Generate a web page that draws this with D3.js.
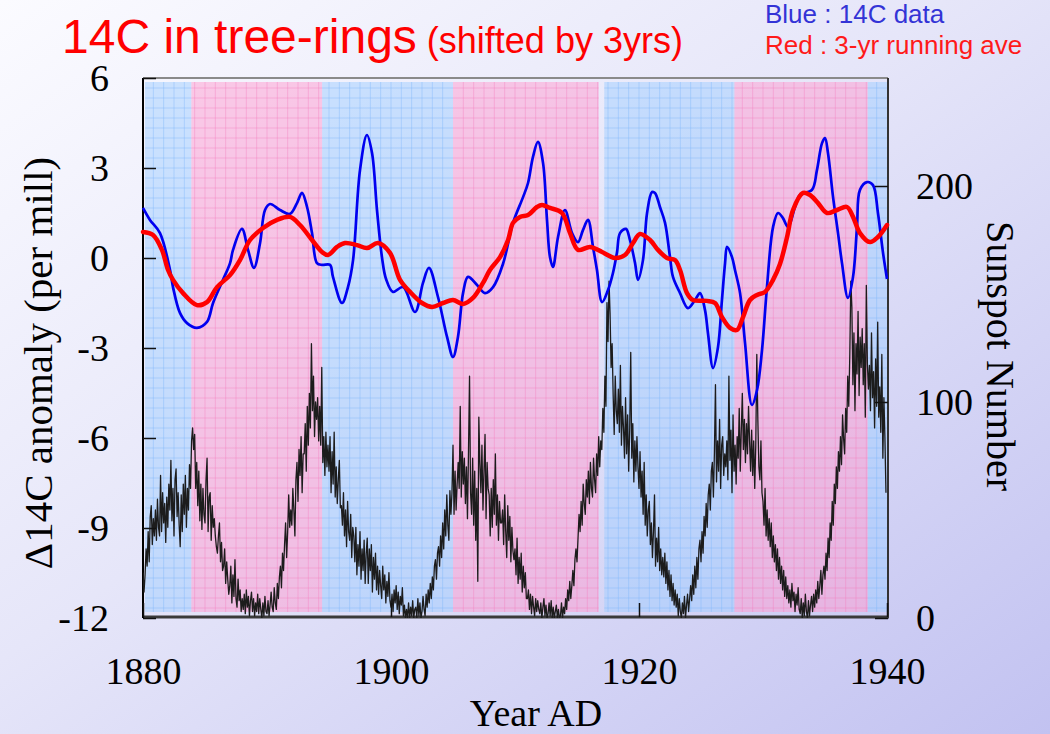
<!DOCTYPE html>
<html>
<head>
<meta charset="utf-8">
<script src="https://cdn.jsdelivr.net/npm/d3@7"></script>
<style>
  html, body { margin: 0; padding: 0; }
  body { width: 1050px; height: 734px; overflow: hidden; }
</style>
</head>
<body>
<div id="chart"></div>
<script>
// 14C anomaly (per mill)
var c14Years = [1880.0, 1880.56, 1881.37, 1882.18, 1882.42, 1882.98, 1883.55, 1884.35, 1885.16, 1885.65,
  1886.45, 1887.02, 1887.26, 1887.98, 1888.47, 1888.95, 1889.44, 1889.84, 1890.24, 1891.05,
  1891.85, 1892.42, 1892.82, 1893.23, 1893.63, 1894.03, 1894.44, 1895.08, 1895.32, 1896.05,
  1896.53, 1896.94, 1897.5, 1898.06, 1898.47, 1898.87, 1899.27, 1899.6, 1900.16, 1900.97,
  1901.94, 1902.58, 1903.06, 1903.79, 1904.52, 1905.0, 1905.4, 1905.81, 1906.21, 1906.94,
  1907.58, 1908.23, 1909.03, 1909.84, 1910.65, 1911.05, 1911.45, 1911.85, 1912.26, 1912.58,
  1912.82, 1913.06, 1913.47, 1914.03, 1914.6, 1915.08, 1915.48, 1915.89, 1916.29, 1916.61,
  1917.02, 1917.5, 1917.9, 1918.23, 1918.47, 1918.95, 1919.27, 1919.68, 1919.92, 1920.32,
  1920.65, 1921.05, 1921.29, 1921.69, 1922.1, 1922.5, 1922.74, 1923.31, 1923.95, 1924.52,
  1924.92, 1925.32, 1925.56, 1925.97, 1926.37, 1926.69, 1926.94, 1927.1, 1927.5, 1927.74,
  1928.15, 1928.55, 1929.11, 1929.52, 1929.92, 1930.32, 1930.81, 1931.21, 1931.61, 1932.02,
  1932.58, 1932.98, 1933.95, 1934.35, 1934.76, 1935.0, 1935.24, 1935.65, 1936.05, 1936.37,
  1936.85, 1937.26, 1937.58, 1937.82, 1938.39, 1938.87, 1939.27, 1939.68, 1940.0];
var c14Values = [1.67, 1.27, 0.83, -0.4, -0.97, -1.83, -2.17, -2.33, -2.13, -1.5,
  -0.73, -0.17, 0.27, 0.97, 0.27, -0.33, 0.5, 1.6, 1.8, 1.6,
  1.47, 1.83, 2.17, 1.7, 0.83, -0.17, -0.23, -0.23, -0.63, -1.5,
  -0.97, -0.07, 2.93, 4.1, 3.5, 1.6, 0.03, -0.7, -1.13, -0.97,
  -1.8, -0.83, -0.33, -1.3, -2.63, -3.3, -2.63, -1.17, -0.63, -0.9,
  -1.17, -0.97, -0.2, 1.17, 2.03, 2.5, 3.37, 3.87, 3.17, 1.27,
  0.03, -0.3, 0.7, 1.6, 0.83, 0.53, 0.93, 1.27, 0.37, -0.4,
  -1.47, -1.07, -0.5, 0.2, 0.83, 0.97, 0.6, -0.17, -0.73, -0.07,
  1.5, 2.2, 2.17, 1.7, 1.17, 0.03, -0.63, -1.17, -1.67, -1.4,
  -1.17, -1.73, -2.5, -3.67, -2.97, -1.4, -0.17, 0.37, 0.03, -0.4,
  -1.17, -2.83, -4.9, -4.4, -3.07, -0.97, 1.03, 1.5, 1.33, 1.03,
  1.7, 2.1, 2.27, 2.93, 3.83, 4.0, 3.5, 2.03, 0.83, -0.17,
  -1.33, -0.63, 1.03, 2.27, 2.53, 2.43, 1.5, 0.17, -0.7];

// 3-yr running average
var avgYears = [1880.0, 1880.81, 1881.53, 1882.02, 1882.42, 1883.23, 1884.35, 1885.16, 1885.97, 1887.02,
  1887.82, 1888.63, 1889.68, 1890.81, 1891.85, 1892.66, 1893.63, 1894.44, 1894.92, 1895.65,
  1896.29, 1897.26, 1898.06, 1898.95, 1899.92, 1900.73, 1901.53, 1902.5, 1903.31, 1904.19,
  1905.0, 1905.81, 1906.61, 1907.42, 1907.98, 1908.79, 1909.44, 1909.84, 1910.4, 1911.05,
  1911.77, 1912.18, 1912.82, 1913.79, 1914.44, 1915.08, 1916.05, 1917.02, 1918.06, 1918.87,
  1919.52, 1920.08, 1920.89, 1921.53, 1922.26, 1922.9, 1923.31, 1923.87, 1924.35, 1925.48,
  1926.13, 1926.69, 1927.34, 1927.9, 1928.39, 1928.95, 1929.52, 1930.16, 1930.81, 1931.37,
  1931.94, 1932.42, 1933.23, 1933.79, 1934.44, 1935.16, 1935.97, 1936.77, 1937.26, 1937.82,
  1938.63, 1939.27, 1940.0];
var avgValues = [0.87, 0.77, 0.27, -0.4, -0.73, -1.17, -1.57, -1.47, -0.97, -0.57,
  -0.07, 0.6, 1.0, 1.27, 1.37, 1.1, 0.6, 0.2, 0.1, 0.37,
  0.5, 0.43, 0.33, 0.5, 0.17, -0.73, -1.13, -1.5, -1.63, -1.5,
  -1.4, -1.53, -1.33, -0.83, -0.4, 0.03, 0.6, 1.17, 1.37, 1.43,
  1.7, 1.77, 1.67, 1.5, 0.83, 0.27, 0.37, 0.2, 0.0, 0.1,
  0.5, 0.8, 0.6, 0.27, 0.0, -0.07, -0.4, -1.17, -1.4, -1.43,
  -1.5, -1.97, -2.33, -2.4, -1.97, -1.4, -1.23, -1.13, -0.73, -0.2,
  0.7, 1.6, 2.17, 2.1, 1.83, 1.5, 1.6, 1.7, 1.37, 0.83,
  0.53, 0.7, 1.1];

// monthly sunspot number, one row per year from 1880
var sunspotStart = 1880;
var sunspotMonthly = [
  21, 12, 20, 32, 24, 40, 26, 47, 52, 34, 46, 38,
  50, 36, 55, 42, 38, 66, 40, 58, 44, 53, 35, 56,
  42, 62, 50, 73, 45, 60, 38, 64, 69, 47, 58, 43,
  33, 57, 40, 62, 48, 66, 42, 60, 50, 71, 60, 82,
  88, 78, 85, 60, 72, 52, 68, 45, 62, 41, 60, 48,
  44, 64, 74, 40, 56, 58, 36, 52, 42, 46, 38, 33,
  30, 38, 44, 26, 35, 22, 24, 32, 16, 26, 18, 11,
  15, 24, 7, 20, 10, 27, 9, 5, 18, 8, 13, 3,
  9, 4, 11, 2, 13, 5, 10, 1, 8, 12, 3, 9,
  1, 7, 3, 11, 2, 9, 4, 0, 7, 1, 10, 3,
  2, 8, 1, 6, 12, 5, 3, 14, 7, 4, 16, 9,
  19, 24, 14, 30, 22, 34, 44, 28, 40, 57, 42, 50,
  43, 60, 50, 38, 64, 72, 54, 78, 66, 84, 58, 76,
  76, 90, 68, 98, 80, 104, 88, 127, 96, 112, 84, 100,
  92, 102, 82, 98, 80, 116, 72, 84, 66, 86, 70, 80,
  68, 84, 58, 77, 62, 86, 56, 70, 53, 64, 73, 51,
  52, 43, 58, 38, 50, 33, 54, 40, 36, 48, 28, 42,
  38, 26, 42, 20, 34, 24, 40, 18, 32, 22, 36, 16,
  30, 37, 16, 32, 22, 34, 12, 28, 18, 30, 13, 24,
  11, 22, 15, 9, 24, 13, 20, 7, 17, 10, 21, 8,
  5, 11, 3, 13, 7, 15, 4, 12, 2, 10, 6, 14,
  1, 6, 0, 4, 0, 7, 0, 5, 1, 8, 0, 4,
  5, 0, 9, 1, 7, 0, 3, 10, 4, 1, 11, 5,
  13, 7, 16, 9, 19, 13, 24, 27, 18, 30, 33, 24,
  38, 28, 44, 32, 50, 38, 57, 43, 36, 59, 48, 58,
  80, 48, 68, 50, 62, 72, 60, 98, 56, 77, 62, 74,
  53, 70, 46, 77, 112, 58, 48, 74, 43, 68, 36, 60,
  17, 93, 72, 58, 80, 50, 68, 85, 46, 72, 60, 57,
  38, 60, 42, 64, 48, 76, 43, 57, 36, 54, 44, 44,
  50, 34, 57, 40, 28, 52, 36, 47, 26, 42, 31, 27,
  32, 20, 37, 16, 28, 18, 30, 12, 24, 14, 21, 9,
  9, 13, 4, 11, 2, 10, 5, 1, 9, 3, 8, 4,
  2, 7, 0, 5, 9, 1, 6, 0, 2, 7, 1, 8,
  0, 5, 0, 3, 6, 0, 4, 0, 1, 7, 0, 5,
  2, 9, 4, 13, 8, 17, 9, 15, 22, 15, 27, 32,
  26, 37, 48, 40, 54, 43, 62, 53, 48, 64, 56, 68,
  53, 72, 60, 56, 74, 64, 58, 76, 66, 84, 70, 82,
  78, 97, 86, 112, 98, 146, 128, 156, 141, 116, 127, 103,
  85, 112, 96, 90, 106, 86, 117, 80, 98, 88, 74, 102,
  76, 94, 68, 87, 123, 74, 90, 63, 82, 68, 84, 70,
  60, 77, 56, 68, 48, 72, 43, 57, 38, 50, 54, 34,
  44, 28, 40, 57, 24, 37, 26, 42, 22, 32, 20, 28,
  19, 30, 16, 26, 13, 22, 10, 20, 8, 16, 6, 13,
  5, 11, 1, 9, 3, 0, 7, 2, 10, 0, 6, 11,
  3, 9, 15, 8, 20, 11, 24, 14, 28, 18, 32, 36,
  26, 40, 30, 47, 38, 53, 42, 57, 62, 50, 68, 72,
  56, 77, 108, 63, 82, 68, 92, 60, 80, 84, 66, 76,
  70, 82, 64, 112, 73, 87, 58, 94, 68, 80, 62, 84,
  74, 97, 68, 87, 104, 78, 92, 72, 90, 76, 98, 82,
  68, 87, 66, 82, 60, 80, 122, 92, 70, 64, 82, 58,
  54, 43, 60, 38, 50, 36, 46, 33, 44, 28, 38, 26,
  34, 22, 32, 18, 28, 16, 24, 13, 22, 10, 19, 9,
  15, 7, 13, 5, 16, 8, 12, 3, 11, 6, 14, 4,
  2, 9, 0, 7, 1, 11, 3, 0, 8, 1, 6, 10,
  3, 11, 5, 13, 7, 17, 9, 15, 22, 11, 20, 24,
  18, 30, 22, 37, 28, 44, 36, 54, 43, 62, 53, 70,
  60, 77, 68, 84, 71, 94, 83, 76, 97, 86, 112, 98,
  122, 156, 144, 108, 132, 96, 127, 113, 142, 103, 130, 116,
  134, 108, 127, 93, 154, 118, 106, 117, 96, 132, 102, 114,
  88, 120, 98, 137, 93, 107, 86, 122, 74, 102, 83, 58
];

// shaded phases
var bandStarts = [1880, 1883.9, 1894.45, 1905.0, 1917.2, 1927.7, 1938.45];
var bandEnds   = [1883.9, 1894.45, 1905.0, 1916.75, 1927.7, 1938.45, 1940];
var bandKinds  = ['blue', 'pink', 'blue', 'pink', 'blue', 'pink', 'blue'];

var leftTicks = [6, 3, 0, -3, -6, -9, -12];
var rightTicks = [0, 100, 200];
var yearTicks = [1880, 1900, 1920, 1940];

(function () {
var width = 1050;
var height = 734;
var pLeft = 143, pRight = 887, pTop = 78, pBottom = 618;

var svg = d3.select('#chart').append('svg')
    .attr('width', width)
    .attr('height', height);

var defs = svg.append('defs');
var bg = defs.append('linearGradient')
    .attr('id', 'bg')
    .attr('x1', 0).attr('y1', 0)
    .attr('x2', 1).attr('y2', 1);
bg.append('stop').attr('offset', '0%').attr('stop-color', '#fbfbff');
bg.append('stop').attr('offset', '45%').attr('stop-color', '#e6e6f9');
bg.append('stop').attr('offset', '100%').attr('stop-color', '#c2c2f1');

defs.append('clipPath').attr('id', 'plotClip')
  .append('rect')
    .attr('x', pLeft).attr('y', pTop)
    .attr('width', pRight - pLeft).attr('height', pBottom - pTop);

svg.append('rect')
    .attr('width', width)
    .attr('height', height)
    .attr('fill', 'url(#bg)');

var xScale = d3.scaleLinear().domain([1880, 1940]).range([pLeft, pRight]);
var yScale = d3.scaleLinear().domain([-12, 6]).range([pBottom, pTop]);
var ySun = d3.scaleLinear().domain([0, 250]).range([pBottom, pTop]);

var bandFill = { blue: 'rgba(160,205,255,0.5)', pink: 'rgba(255,155,208,0.5)' };
var gridColor = { blue: 'rgba(130,185,250,0.45)', pink: 'rgba(245,125,190,0.4)' };

var bands = bandStarts.map((s, i) => ({ start: s, end: bandEnds[i], kind: bandKinds[i] }));
var bandTop = pTop + 4;
var bandBottom = pBottom - 6;

var gBands = svg.append('g').attr('class', 'bands');
bands.forEach(b => {
    var x0 = Math.max(xScale(b.start), pLeft + 2);
    var x1 = xScale(b.end);
    gBands.append('rect')
        .attr('x', x0)
        .attr('y', bandTop)
        .attr('width', x1 - x0)
        .attr('height', bandBottom - bandTop)
        .attr('fill', bandFill[b.kind]);

    var vx = d3.range(1880, 1940.01, 60 / 72).map(xScale).filter(v => v > x0 && v < x1);
    gBands.selectAll(null).data(vx).enter().append('line')
        .attr('x1', d => d).attr('x2', d => d)
        .attr('y1', bandTop).attr('y2', bandBottom)
        .attr('stroke', gridColor[b.kind])
        .attr('stroke-width', 1);

    var hy = d3.range(-12, 6.01, 1 / 3).map(yScale).filter(v => v > bandTop && v < bandBottom);
    gBands.selectAll(null).data(hy).enter().append('line')
        .attr('x1', x0).attr('x2', x1)
        .attr('y1', d => d).attr('y2', d => d)
        .attr('stroke', gridColor[b.kind])
        .attr('stroke-width', 1);
});

// frame
svg.append('line').attr('x1', pLeft).attr('x2', pRight + 1).attr('y1', pTop).attr('y2', pTop)
    .attr('stroke', '#8a8a8a').attr('stroke-width', 2);
svg.append('line').attr('x1', pRight + 1).attr('x2', pRight + 1).attr('y1', pTop).attr('y2', pBottom)
    .attr('stroke', '#333').attr('stroke-width', 2);
svg.append('line').attr('x1', pLeft).attr('x2', pRight + 2).attr('y1', pBottom - 1).attr('y2', pBottom - 1)
    .attr('stroke', '#3a3a3a').attr('stroke-width', 3);
svg.append('line').attr('x1', pLeft).attr('x2', pLeft).attr('y1', pTop).attr('y2', pBottom)
    .attr('stroke', '#000').attr('stroke-width', 2);

// sunspots
var sunData = sunspotMonthly.map((v, i) => ({ t: sunspotStart + i / 12, v: v }));
var sunLine = d3.line().x(d => xScale(d.t)).y(d => ySun(d.v));
svg.append('path')
    .datum(sunData)
    .attr('clip-path', 'url(#plotClip)')
    .attr('d', sunLine)
    .attr('fill', 'none')
    .attr('stroke', '#1c1c1c')
    .attr('stroke-width', 1.3)
    .attr('stroke-linejoin', 'round');

// 14C
var c14Data = c14Years.map((t, i) => ({ t: t, v: c14Values[i] }));
var avgData = avgYears.map((t, i) => ({ t: t, v: avgValues[i] }));
var cLine = d3.line().x(d => xScale(d.t)).y(d => yScale(d.v)).curve(d3.curveCatmullRom.alpha(0.5));

svg.append('path')
    .datum(c14Data)
    .attr('d', cLine)
    .attr('fill', 'none')
    .attr('stroke', '#0000f0')
    .attr('stroke-width', 2.7)
    .attr('stroke-linejoin', 'round');

svg.append('path')
    .datum(avgData)
    .attr('d', cLine)
    .attr('fill', 'none')
    .attr('stroke', '#ff0000')
    .attr('stroke-width', 4.5)
    .attr('stroke-linejoin', 'round')
    .attr('stroke-linecap', 'round');

// axes
var serif = '"Liberation Serif", "Times New Roman", serif';
var sans = '"Liberation Sans", Arial, sans-serif';

var yAxis = d3.axisLeft(yScale).tickValues(leftTicks).tickSize(-13).tickPadding(34)
    .tickFormat(d => String(d));
var gy = svg.append('g').attr('transform', `translate(${pLeft},0)`).call(yAxis);

var yAxisR = d3.axisRight(ySun).tickValues(rightTicks).tickSize(-13).tickPadding(28)
    .tickFormat(d => String(d));
var gyr = svg.append('g').attr('transform', `translate(${pRight + 1},0)`).call(yAxisR);

var xAxis = d3.axisBottom(xScale).tickValues(yearTicks).tickSize(-14).tickPadding(40)
    .tickFormat(d => String(d));
var gx = svg.append('g').attr('transform', `translate(0,${pBottom - 1})`).call(xAxis);

[gy, gyr, gx].forEach(g => {
    g.select('.domain').remove();
    g.selectAll('.tick line').attr('stroke', '#111').attr('stroke-width', 1.5);
    g.selectAll('.tick text')
        .attr('fill', '#000')
        .style('font-family', serif)
        .style('font-size', '38px');
});

// axis titles
svg.append('text')
    .text('Δ14C anomaly (per mill)')
    .attr('transform', `translate(52,363)rotate(-90)`)
    .attr('text-anchor', 'middle')
    .style('font-family', serif)
    .style('font-size', '41px')
    .attr('fill', '#000');

svg.append('text')
    .text('Sunspot Number')
    .attr('transform', `translate(987,356)rotate(90)`)
    .attr('text-anchor', 'middle')
    .style('font-family', serif)
    .style('font-size', '40px')
    .attr('fill', '#000');

svg.append('text')
    .text('Year AD')
    .attr('x', 536)
    .attr('y', 726)
    .attr('text-anchor', 'middle')
    .style('font-family', serif)
    .style('font-size', '38px')
    .attr('fill', '#000');

// titles
var title = svg.append('text')
    .attr('x', 62)
    .attr('y', 53)
    .style('font-family', sans)
    .attr('fill', '#ff0000');
title.append('tspan').text('14C in tree-rings').style('font-size', '48px');
title.append('tspan').text(' (shifted by 3yrs)').style('font-size', '36px');

svg.append('text')
    .text('Blue : 14C data')
    .attr('x', 765)
    .attr('y', 23)
    .style('font-family', sans)
    .style('font-size', '26px')
    .attr('fill', '#3333d6');

svg.append('text')
    .text('Red : 3-yr running ave')
    .attr('x', 765)
    .attr('y', 54)
    .style('font-family', sans)
    .style('font-size', '26px')
    .attr('fill', '#ff1a1a');
})();
</script>
</body>
</html>
